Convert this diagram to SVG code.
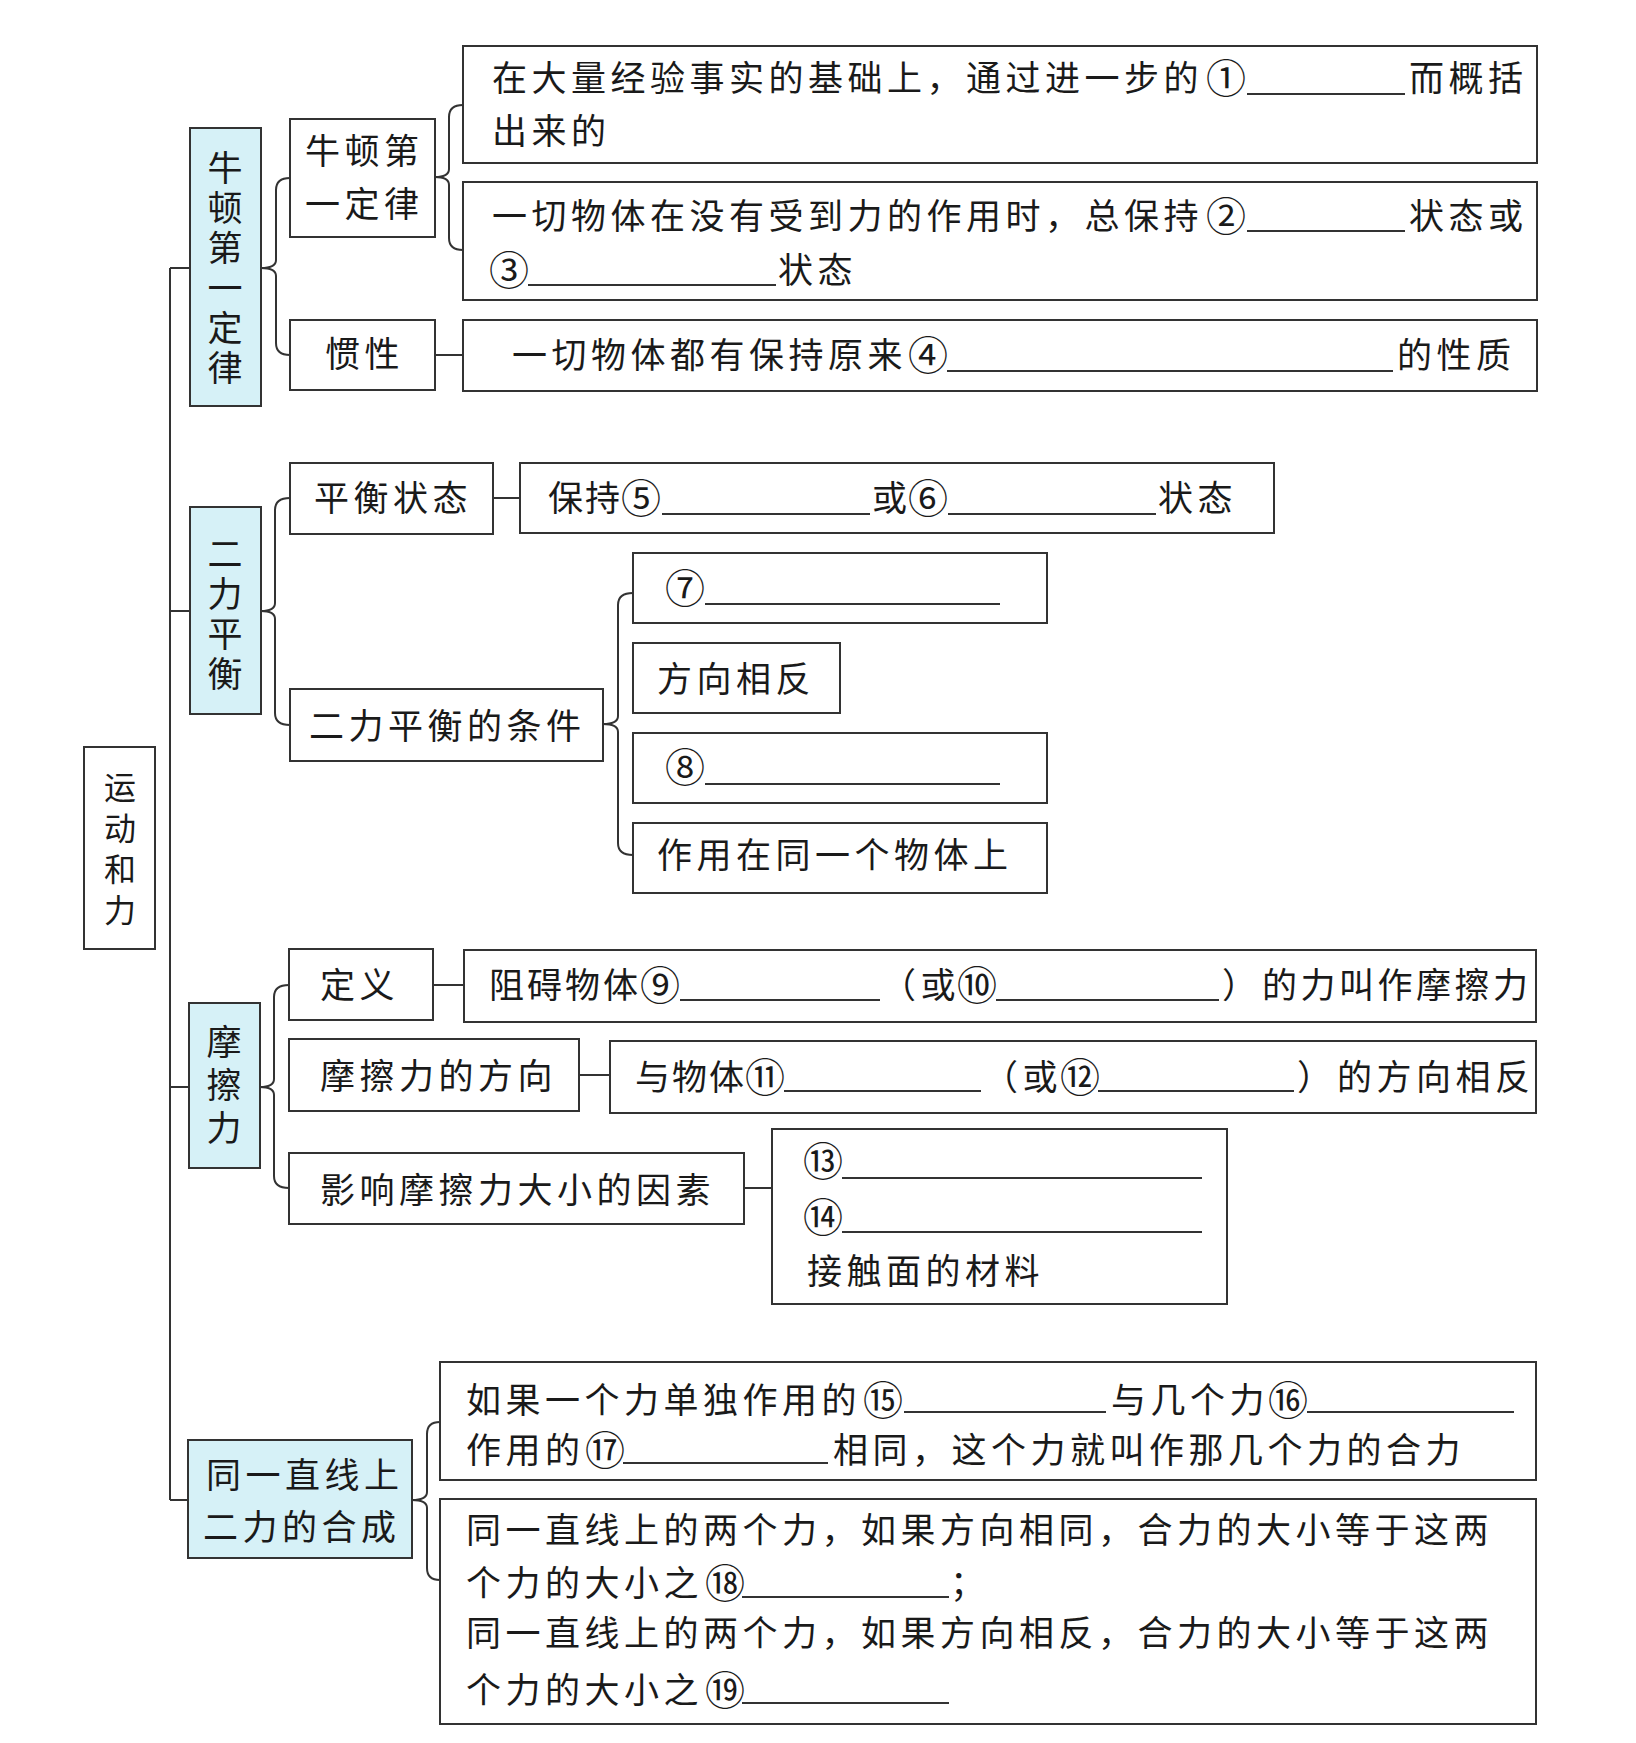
<svg xmlns="http://www.w3.org/2000/svg" width="1636" height="1743" viewBox="0 0 1636 1743">
<style>
.box{fill:#fff;stroke:#333;stroke-width:2}
.blue{fill:#d6f1f7;stroke:#333;stroke-width:2}
.conn{fill:none;stroke:#333;stroke-width:2}
.blank{stroke:#333;stroke-width:1.8}
text{font-family:"Noto Sans CJK SC","Noto Sans CJK JP",sans-serif;font-size:35px;fill:#1a1a1a;letter-spacing:4.5px}
.v{writing-mode:vertical-rl;text-orientation:upright;letter-spacing:5px}
.c{text-anchor:middle;letter-spacing:0;font-size:40px}
</style>
<rect width="1636" height="1743" fill="#fff"/>
<g id="connectors">
<path class="conn" d="M170,268 V1500 M170,268 H190 M170,611 H190 M170,1087 H189 M170,1500 H188"/>
<path class="conn" d="M290,178 Q276,178 276,190 L276,260 Q276,268 261,268 Q276,268 276,276 L276,343 Q276,355 290,355"/>
<path class="conn" d="M463,105 Q449,105 449,117 L449,169 Q449,177 435,177 Q449,177 449,185 L449,238 Q449,250 463,250"/>
<path class="conn" d="M435,355 H463"/>
<path class="conn" d="M290,498 Q275,498 275,510 L275,603 Q275,611 261,611 Q275,611 275,619 L275,713 Q275,725 290,725"/>
<path class="conn" d="M493,498 H520"/>
<path class="conn" d="M633,593 Q618,593 618,605 L618,716 Q618,724 603,724 Q618,724 618,732 L618,843 Q618,855 633,855"/>
<path class="conn" d="M289,985 Q274,985 274,997 L274,1079 Q274,1087 260,1087 Q274,1087 274,1095 L274,1176 Q274,1188 289,1188"/>
<path class="conn" d="M433,985 H464 M579,1075 H610 M744,1188 H772"/>
<path class="conn" d="M440,1422 Q427,1422 427,1434 L427,1492 Q427,1500 412,1500 Q427,1500 427,1508 L427,1568 Q427,1580 440,1580"/>
</g>
<g id="root">
<rect class="box" x="84" y="747" width="71" height="202"/>
<text class="v" x="120" y="771" style="font-size:32px;letter-spacing:9px">运动和力</text>
</g>
<g id="n-newton">
<rect class="blue" x="190" y="128" width="71" height="278"/>
<text class="v" x="225" y="150">牛顿第一定律</text>
</g>
<g id="n-law">
<rect class="box" x="290" y="119" width="145" height="118"/>
<text x="305" y="164">牛顿第</text>
<text x="305" y="217">一定律</text>
</g>
<g id="n-law-a">
<rect class="box" x="463" y="46" width="1074" height="117"/>
<text x="492" y="91">在大量经验事实的基础上，通过进一步的</text>
<text class="c" x="1226" y="93">①</text>
<line class="blank" x1="1247" y1="94" x2="1405" y2="94"/>
<text x="1409" y="91">而概括</text>
<text x="492" y="144">出来的</text>
</g>
<g id="n-law-b">
<rect class="box" x="463" y="182" width="1074" height="118"/>
<text x="492" y="229">一切物体在没有受到力的作用时，总保持</text>
<text class="c" x="1226" y="231">②</text>
<line class="blank" x1="1247" y1="231" x2="1405" y2="231"/>
<text x="1409" y="229">状态或</text>
<text class="c" x="509" y="285">③</text>
<line class="blank" x1="528" y1="285" x2="776" y2="285"/>
<text x="778" y="283">状态</text>
</g>
<g id="n-inertia">
<rect class="box" x="290" y="320" width="145" height="70"/>
<text x="325" y="367">惯性</text>
</g>
<g id="n-inertia-a">
<rect class="box" x="463" y="320" width="1074" height="71"/>
<text x="512" y="368">一切物体都有保持原来</text>
<text class="c" x="928" y="370">④</text>
<line class="blank" x1="947" y1="371" x2="1393" y2="371"/>
<text x="1397" y="368">的性质</text>
</g>
<g id="n-balance">
<rect class="blue" x="190" y="507" width="71" height="207"/>
<text class="v" x="225" y="536">二力平衡</text>
</g>
<g id="n-state">
<rect class="box" x="290" y="463" width="203" height="71"/>
<text x="314" y="511">平衡状态</text>
</g>
<g id="n-state-a">
<rect class="box" x="520" y="463" width="754" height="70"/>
<text x="548" y="511" style="letter-spacing:2px">保持</text>
<text class="c" x="641" y="513">⑤</text>
<line class="blank" x1="662" y1="514" x2="870" y2="514"/>
<text x="872" y="511">或</text>
<text class="c" x="928" y="513">⑥</text>
<line class="blank" x1="948" y1="514" x2="1156" y2="514"/>
<text x="1158" y="511">状态</text>
</g>
<g id="n-cond">
<rect class="box" x="290" y="689" width="313" height="72"/>
<text x="309" y="739">二力平衡的条件</text>
</g>
<g id="n-c7">
<rect class="box" x="633" y="553" width="414" height="70"/>
<text class="c" x="685" y="603">⑦</text>
<line class="blank" x1="705" y1="604" x2="1000" y2="604"/>
</g>
<g id="n-opp">
<rect class="box" x="633" y="643" width="207" height="70"/>
<text x="657" y="692">方向相反</text>
</g>
<g id="n-c8">
<rect class="box" x="633" y="733" width="414" height="70"/>
<text class="c" x="685" y="782">⑧</text>
<line class="blank" x1="705" y1="784" x2="1000" y2="784"/>
</g>
<g id="n-same">
<rect class="box" x="633" y="823" width="414" height="70"/>
<text x="657" y="868">作用在同一个物体上</text>
</g>
<g id="n-friction">
<rect class="blue" x="189" y="1003" width="71" height="165"/>
<text class="v" x="224" y="1024" style="letter-spacing:8px">摩擦力</text>
</g>
<g id="n-def">
<rect class="box" x="289" y="949" width="144" height="71"/>
<text x="320" y="998">定义</text>
</g>
<g id="n-def-a">
<rect class="box" x="464" y="950" width="1072" height="72"/>
<text x="489" y="998" style="letter-spacing:3px">阻碍物体</text>
<text class="c" x="660" y="1000">⑨</text>
<line class="blank" x1="680" y1="1000" x2="880" y2="1000"/>
<text x="881" y="998">（或</text>
<text class="c" x="977" y="1000">⑩</text>
<line class="blank" x1="996" y1="1000" x2="1219" y2="1000"/>
<text x="1222" y="998">）</text>
<text x="1262" y="998" style="letter-spacing:3.5px">的力叫作摩擦力</text>
</g>
<g id="n-dir">
<rect class="box" x="289" y="1039" width="290" height="72"/>
<text x="320" y="1089">摩擦力的方向</text>
</g>
<g id="n-dir-a">
<rect class="box" x="610" y="1041" width="926" height="72"/>
<text x="635" y="1090" style="letter-spacing:2px">与物体</text>
<text class="c" x="765" y="1092">⑪</text>
<line class="blank" x1="784" y1="1091" x2="981" y2="1091"/>
<text x="983" y="1090">（或</text>
<text class="c" x="1080" y="1092">⑫</text>
<line class="blank" x1="1098" y1="1091" x2="1294" y2="1091"/>
<text x="1297" y="1090">）</text>
<text x="1337" y="1090">的方向相反</text>
</g>
<g id="n-factor">
<rect class="box" x="289" y="1153" width="455" height="71"/>
<text x="320" y="1203">影响摩擦力大小的因素</text>
</g>
<g id="n-factor-a">
<rect class="box" x="772" y="1129" width="455" height="175"/>
<text class="c" x="823" y="1176">⑬</text>
<line class="blank" x1="842" y1="1178" x2="1202" y2="1178"/>
<text class="c" x="823" y="1232">⑭</text>
<line class="blank" x1="842" y1="1232" x2="1202" y2="1232"/>
<text x="807" y="1284">接触面的材料</text>
</g>
<g id="n-compose">
<rect class="blue" x="188" y="1440" width="224" height="118"/>
<text x="206" y="1488">同一直线上</text>
<text x="203" y="1540">二力的合成</text>
</g>
<g id="n-compose-a">
<rect class="box" x="440" y="1362" width="1096" height="118"/>
<text x="466" y="1413">如果一个力单独作用的</text>
<text class="c" x="883" y="1415">⑮</text>
<line class="blank" x1="904" y1="1412" x2="1106" y2="1412"/>
<text x="1111" y="1413">与几个力</text>
<text class="c" x="1288" y="1415">⑯</text>
<line class="blank" x1="1307" y1="1412" x2="1514" y2="1412"/>
<text x="466" y="1463">作用的</text>
<text class="c" x="605" y="1465">⑰</text>
<line class="blank" x1="623" y1="1463" x2="828" y2="1463"/>
<text x="833" y="1463">相同，这个力就叫作那几个力的合力</text>
</g>
<g id="n-compose-b">
<rect class="box" x="440" y="1499" width="1096" height="225"/>
<text x="466" y="1543">同一直线上的两个力，如果方向相同，合力的大小等于这两</text>
<text x="466" y="1596">个力的大小之</text>
<text class="c" x="725" y="1598">⑱</text>
<line class="blank" x1="742" y1="1597" x2="949" y2="1597"/>
<text x="950" y="1596">；</text>
<text x="466" y="1646">同一直线上的两个力，如果方向相反，合力的大小等于这两</text>
<text x="466" y="1703">个力的大小之</text>
<text class="c" x="725" y="1705">⑲</text>
<line class="blank" x1="742" y1="1703" x2="949" y2="1703"/>
</g>
</svg>
